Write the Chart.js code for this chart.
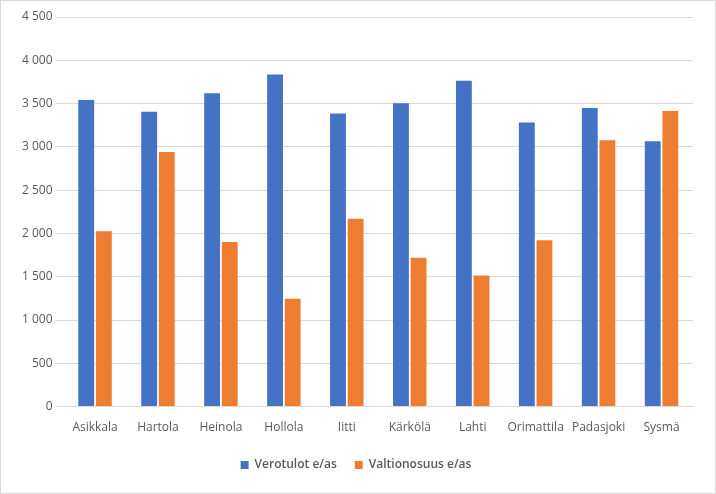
<!DOCTYPE html>
<html>
<head>
<meta charset="utf-8">
<script src="https://cdn.jsdelivr.net/npm/chart.js@4"></script>
<style>
  html, body { margin: 0; padding: 0; background: #fff; }
  #wrap { width: 714px; height: 492px; border: 1px solid #d9d9d9; }
</style>
</head>
<body>
<div id="wrap"><canvas id="chart" width="714" height="492"></canvas></div>
<script>
const kunnat = ['Asikkala', 'Hartola', 'Heinola', 'Hollola', 'Iitti', 'Kärkölä', 'Lahti', 'Orimattila', 'Padasjoki', 'Sysmä'];
const verotulot = [3540, 3405, 3620, 3835, 3385, 3505, 3765, 3280, 3450, 3065];
const valtionosuus = [2025, 2940, 1900, 1245, 2170, 1720, 1515, 1920, 3075, 3415];

const fmt = v => String(v).replace(/\B(?=(\d{3})+(?!\d))/g, ' ');

new Chart(document.getElementById('chart'), {
    type: 'bar',
    data: {
        labels: kunnat,
        datasets: [
            { label: 'Verotulot e/as', data: verotulot, backgroundColor: '#4472C4' },
            { label: 'Valtionosuus e/as', data: valtionosuus, backgroundColor: '#ED7D31' }
        ]
    },
    options: {
        responsive: false,
        animation: false,
        layout: { padding: { top: 16, right: 22, left: 18, bottom: 12 } },
        datasets: { bar: { categoryPercentage: 0.56, barPercentage: 0.9 } },
        plugins: {
            legend: {
                position: 'bottom',
                labels: { boxWidth: 8, boxHeight: 8, color: '#595959', font: { family: 'Open Sans', size: 12, weight: '600' }, padding: 18 }
            },
            tooltip: { enabled: false }
        },
        scales: {
            x: {
                grid: { display: false },
                border: { color: '#d9d9d9' },
                ticks: { color: '#595959', font: { family: 'Open Sans', size: 12 }, padding: 6 }
            },
            y: {
                min: 0, max: 4500,
                ticks: { stepSize: 500, color: '#595959', font: { family: 'Open Sans', size: 12 }, callback: v => fmt(v) },
                grid: { color: '#d9d9d9' },
                border: { display: false }
            }
        }
    }
});
</script>
</body>
</html>
